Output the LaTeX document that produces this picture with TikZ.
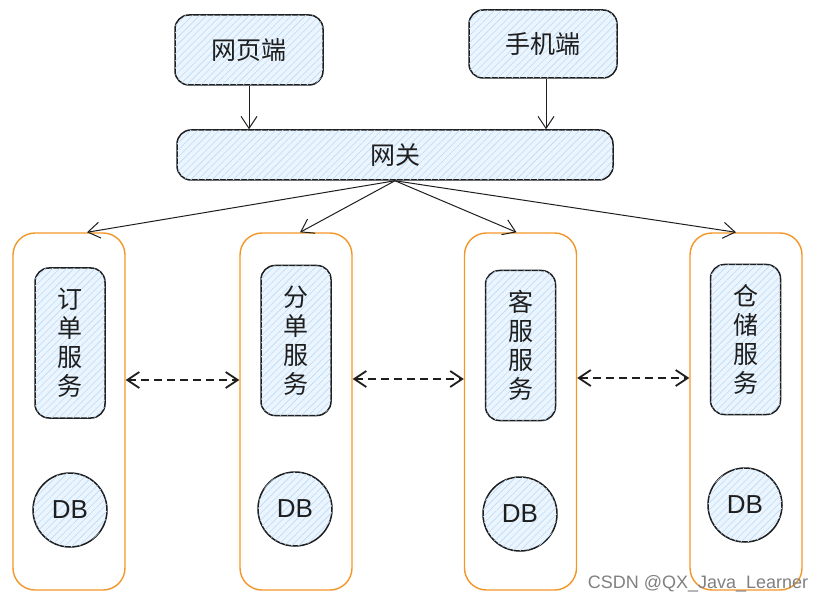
\documentclass[tikz,border=0pt]{standalone}
\usepackage{fontspec}
\setmainfont{Noto Sans CJK SC}
\newfontfamily\markfont{Liberation Sans}
\usepackage{tikz}
\usetikzlibrary{arrows.meta, positioning, patterns.meta}
\definecolor{colorStroke}{RGB}{30,30,30}
\definecolor{colorFill}{RGB}{236,245,253}
\definecolor{colorHatch}{RGB}{185,220,250}
\definecolor{colorGroup}{RGB}{242,150,40}
\tikzset{
  sketch/.style={draw=colorStroke, line width=0.75pt, rounded corners=7pt, fill=colorFill,
    postaction={pattern={Lines[angle=45,distance=2.5pt,line width=0.3pt]}, pattern color=colorHatch},
    text=colorStroke, font=\fontsize{12.5}{14.5}\selectfont, align=center, inner sep=0pt},
  group/.style={draw=colorGroup, line width=0.7pt, rounded corners=11pt, minimum width=56pt, minimum height=178.5pt},
  dbnode/.style={sketch, circle, minimum size=37pt, font=\markfont\fontsize{13}{15}\selectfont},
  link/.style={->, draw=colorStroke, line width=0.5pt},
  peer/.style={<->, draw=colorStroke, line width=0.9pt, dash pattern=on 4pt off 2.5pt}
}

\begin{document}
\begin{tikzpicture}[x=0.5pt, y=-0.5pt, >={Straight Barb[length=6pt,width=8pt]}]
\useasboundingbox (0,0) rectangle (824,604);
\node[sketch, minimum width=74pt, minimum height=35pt] (web) at (249,50) {网页端};
\node[sketch, minimum width=74pt, minimum height=34pt] (mobile) at (543,44) {手机端};
\node[sketch, minimum width=218pt, minimum height=25pt] (gw) at (395,155) {网关};
\node[group] (grp1) at (69,411.5) {};
\node[group] (grp2) at (296,411.5) {};
\node[group] (grp3) at (520.5,411.5) {};
\node[group] (grp4) at (746,411.5) {};
\node[sketch, minimum width=35pt, minimum height=75pt] (svc1) at (70,343) {订\\单\\服\\务};
\node[sketch, minimum width=35pt, minimum height=75pt] (svc2) at (296,340.5) {分\\单\\服\\务};
\node[sketch, minimum width=35pt, minimum height=75pt] (svc3) at (520.5,345.5) {客\\服\\服\\务};
\node[sketch, minimum width=35pt, minimum height=75pt] (svc4) at (745.5,339.5) {仓\\储\\服\\务};
\node[dbnode] (db1) at (70,510) {DB};
\node[dbnode] (db2) at (295,509) {DB};
\node[dbnode] (db3) at (520,514) {DB};
\node[dbnode] (db4) at (745,505) {DB};
\draw[link] (web.south) -- (web.south |- gw.north);
\draw[link] ([xshift=1.5pt]mobile.south) -- ([xshift=1.5pt]mobile.south |- gw.north);
\draw[link] (gw.south) -- ([xshift=9pt]grp1.north);
\draw[link] (gw.south) -- ([xshift=2pt]grp2.north);
\draw[link] (gw.south) -- ([xshift=-2pt]grp3.north);
\draw[link] (gw.south) -- ([xshift=-5pt]grp4.north);
\draw[peer] ([yshift=15.75pt]grp1.east) -- ([yshift=15.75pt]grp2.west);
\draw[peer] ([yshift=16.25pt]grp2.east) -- ([yshift=16.25pt]grp3.west);
\draw[peer] ([yshift=16.75pt]grp3.east) -- ([yshift=16.75pt]grp4.west);
\node[font=\markfont\fontsize{9}{10}\selectfont, text=gray] (mark) at (698,584) {CSDN @QX\_Java\_Learner};
\end{tikzpicture}
\end{document}
